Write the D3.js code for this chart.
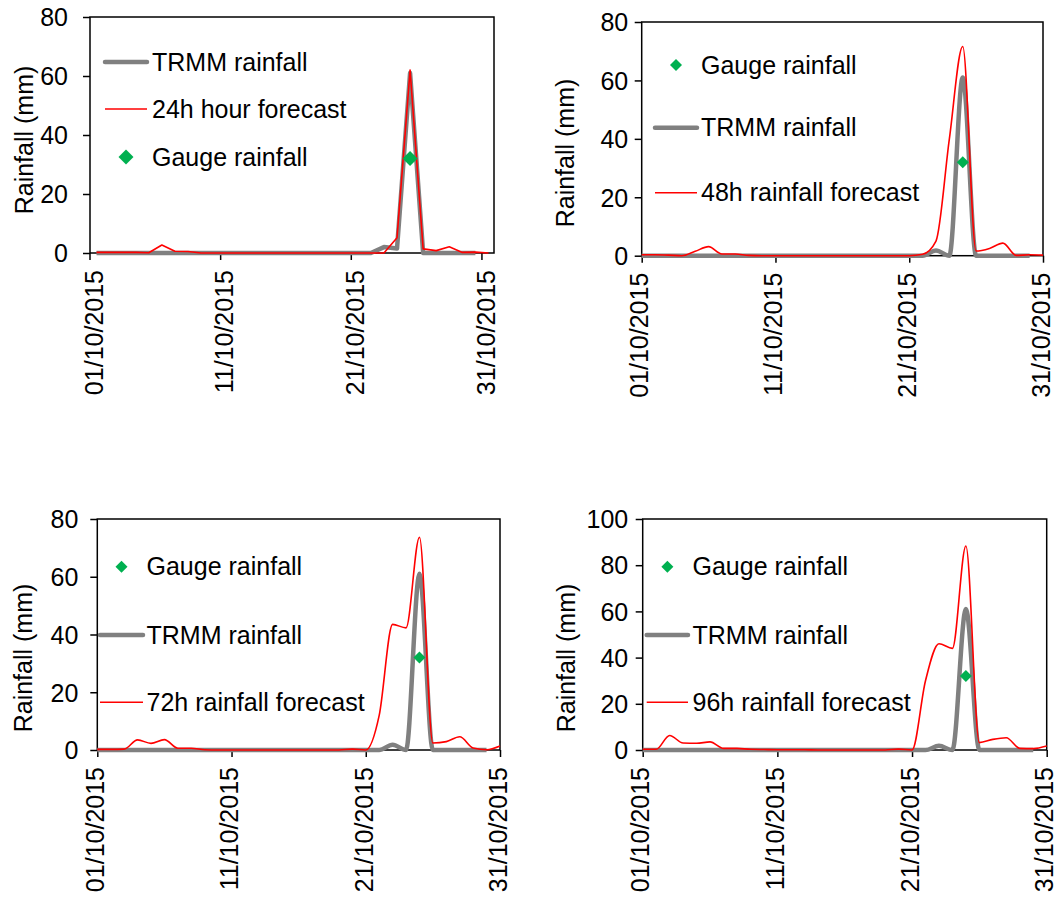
<!DOCTYPE html>
<html>
<head>
<meta charset="utf-8">
<script src="https://cdn.jsdelivr.net/npm/d3@7"></script>
<style>
  body { margin: 0; background: #fff; }
  svg text { font-family: "Liberation Sans", Arial, sans-serif; font-size: 25px; fill: #000; }
</style>
</head>
<body>
<script>
// days of October 2015
var days = [1, 2, 3, 4, 5, 6, 7, 8, 9, 10, 11, 12, 13, 14, 15, 16, 17, 18, 19, 20,
            21, 22, 23, 24, 25, 26, 27, 28, 29, 30, 31];
var tickDays = [1, 11, 21, 31];

// TRMM rainfall (Oct 1 - Oct 30), as drawn in the 24h panel and in the smoothed panels
var trmm24 = [0, 0, 0, 0, 0, 0, 0, 0, 0, 0, 0, 0, 0, 0, 0, 0, 0, 0, 0, 0,
              0, 0, 2, 1.5, 61, 0, 0, 0, 0, 0];
var trmm = [0, 0, 0, 0, 0, 0, 0, 0, 0, 0, 0, 0, 0, 0, 0, 0, 0, 0, 0, 0,
            0, 0, 1.8, 0, 61, 0, 0, 0, 0, 0];

// forecasts (Oct 1 - Oct 31)
var forecast24 = [0.2, 0.2, 0.2, 0.2, 0.1, 2.7, 0.6, 0.5, 0, 0, 0, 0, 0, 0, 0, 0, 0, 0, 0, 0,
                  0, 0, 0, 5.2, 62, 1.4, 0.8, 2.1, 0.2, 0.3, 0];
var forecast48 = [0.3, 0.3, 0.2, 0, 1.5, 3.1, 0.6, 0.6, 0.1, 0, 0, 0, 0, 0, 0, 0, 0, 0, 0, 0,
                  0, 0.5, 5, 40, 71.6, 1.6, 2.5, 4.3, 0.1, 0.3, 0.2];
var forecast72 = [0.2, 0.2, 0.3, 3.5, 2.3, 3.6, 0.6, 0.6, 0.1, 0, 0, 0, 0, 0, 0, 0, 0, 0, 0, 0.3,
                  0, 12, 43.5, 42.3, 73.7, 2.4, 2.9, 4.6, 0.7, 0.1, 1.4];
var forecast96 = [0.3, 0.3, 6.3, 3.0, 2.9, 3.5, 0.7, 0.7, 0.3, 0.2, 0.1, 0.1, 0.1, 0, 0, 0, 0, 0, 0, 0.4,
                  0, 30, 46, 44, 88.3, 3.2, 4.6, 5.3, 0.7, 0.6, 1.7];

// gauge observation
var gaugeDays = [25];
var gaugeValues = [32];

var yTicks80 = [0, 20, 40, 60, 80];
var yTicks100 = [0, 20, 40, 60, 80, 100];

var W = 1059, H = 897;

var svg = d3.select("body")
            .append("svg")
            .attr("width", W)
            .attr("height", H);

var fmt = d3.timeFormat("%d/%m/%Y");
function toDate(d) { return new Date(2015, 9, d); }

function drawPanel(p) {
  var g = svg.append("g");

  // x scale: category axis for the first panel, date axis for the others
  var x, xPos, bw = 0;
  if (p.category) {
    x = d3.scaleBand().domain(days).range([p.left, p.xEnd]);
    bw = x.bandwidth();
    xPos = function(d) { return x(d) + bw / 2; };
  } else {
    x = d3.scaleTime().domain([toDate(1), toDate(31)]).range([p.left, p.right]);
    xPos = function(d) { return x(toDate(d)); };
  }
  var y = d3.scaleLinear().domain([0, p.yMax]).range([p.bottom, p.top]);

  // plot frame
  g.append("rect")
   .attr("x", p.left)
   .attr("y", p.top)
   .attr("width", p.right - p.left)
   .attr("height", p.bottom - p.top)
   .attr("fill", "none")
   .attr("stroke", "#000")
   .attr("stroke-width", 1.5);

  // y axis
  var yAxis = d3.axisLeft(y)
                .tickValues(p.yTicks)
                .tickSize(7)
                .tickSizeOuter(0)
                .tickPadding(p.yGap - 7);
  var gy = g.append("g")
            .attr("transform", "translate(" + p.left + ",0)")
            .call(yAxis);
  gy.select(".domain").remove();
  gy.selectAll("line").attr("stroke", "#000").attr("stroke-width", 1.5);
  gy.selectAll("text").attr("dy", "0.35em");

  // x axis
  var xAxis = p.category
    ? d3.axisBottom(x).tickValues(tickDays).tickFormat(function(d) { return fmt(toDate(d)); })
    : d3.axisBottom(x).tickValues(tickDays.map(toDate)).tickFormat(fmt);
  xAxis.tickSize(7).tickSizeOuter(0);
  var gx = g.append("g")
            .attr("transform", "translate(0," + p.bottom + ")")
            .call(xAxis);
  gx.select(".domain").remove();
  gx.selectAll("line").attr("stroke", "#000").attr("stroke-width", 1.5);
  if (p.category) {
    gx.selectAll("line").attr("x1", -bw / 2).attr("x2", -bw / 2);
  }
  gx.selectAll("text")
    .attr("transform", "rotate(-90)")
    .attr("x", -17)
    .attr("y", 0)
    .attr("dy", "0.25em")
    .style("text-anchor", "end");

  // y title
  g.append("text")
   .attr("transform", "translate(" + p.titleX + "," + p.titleY + ") rotate(-90)")
   .style("text-anchor", "middle")
   .text("Rainfall (mm)");

  // series
  var line = d3.line()
               .x(function(d, i) { return xPos(days[i]); })
               .y(function(d) { return y(d); })
               .curve(p.curve);

  g.append("path")
   .datum(p.trmm)
   .attr("d", line)
   .attr("fill", "none")
   .attr("stroke", "#808080")
   .attr("stroke-width", 4.5)
   .attr("stroke-linejoin", "round");

  g.append("path")
   .datum(p.forecast)
   .attr("d", line)
   .attr("fill", "none")
   .attr("stroke", "#ff0000")
   .attr("stroke-width", 1.6)
   .attr("stroke-linejoin", "round");

  var sym = d3.symbol().type(d3.symbolSquare).size(p.markerSize);
  g.selectAll(".gauge")
   .data(gaugeDays)
   .enter()
   .append("path")
   .attr("class", "gauge")
   .attr("d", sym)
   .attr("transform", function(d, i) {
     return "translate(" + xPos(d) + "," + y(gaugeValues[i]) + ") rotate(45)";
   })
   .attr("fill", "#00b050");

  // legend
  var midX = (p.legLine[0] + p.legLine[1]) / 2;
  p.legend.forEach(function(item) {
    if (item.type === "gauge") {
      g.append("path")
       .attr("d", sym)
       .attr("transform", "translate(" + midX + "," + item.y + ") rotate(45)")
       .attr("fill", "#00b050");
    } else {
      g.append("line")
       .attr("x1", p.legLine[0])
       .attr("x2", p.legLine[1])
       .attr("y1", item.y)
       .attr("y2", item.y)
       .attr("stroke", item.type === "trmm" ? "#808080" : "#ff0000")
       .attr("stroke-width", item.type === "trmm" ? 4.5 : 1.6)
       .attr("stroke-linecap", item.type === "trmm" ? "round" : "butt");
    }
    g.append("text")
     .attr("x", p.legText)
     .attr("y", item.y)
     .attr("dy", "0.35em")
     .text(item.label);
  });
}

var panels = [
  { left: 90, right: 494, xEnd: 495, top: 17, bottom: 253, yMax: 80, yTicks: yTicks80, yGap: 22,
    titleX: 33, titleY: 140, category: true, curve: d3.curveLinear,
    trmm: trmm24, forecast: forecast24, markerSize: 112,
    legLine: [105, 147], legText: 152,
    legend: [ { type: "trmm", y: 62, label: "TRMM rainfall" },
              { type: "forecast", y: 109, label: "24h hour forecast" },
              { type: "gauge", y: 157, label: "Gauge rainfall" } ] },
  { left: 641.7, right: 1043, top: 22, bottom: 255.7, yMax: 80, yTicks: yTicks80, yGap: 13.5,
    titleX: 574, titleY: 153, category: false, curve: d3.curveMonotoneX,
    trmm: trmm, forecast: forecast48, markerSize: 72,
    legLine: [655, 697], legText: 701,
    legend: [ { type: "gauge", y: 65, label: "Gauge rainfall" },
              { type: "trmm", y: 127.7, label: "TRMM rainfall" },
              { type: "forecast", y: 192.7, label: "48h rainfall forecast" } ] },
  { left: 97.3, right: 500, top: 519, bottom: 750, yMax: 80, yTicks: yTicks80, yGap: 19,
    titleX: 32, titleY: 658, category: false, curve: d3.curveMonotoneX,
    trmm: trmm, forecast: forecast72, markerSize: 72,
    legLine: [100, 143], legText: 146.5,
    legend: [ { type: "gauge", y: 566.7, label: "Gauge rainfall" },
              { type: "trmm", y: 635, label: "TRMM rainfall" },
              { type: "forecast", y: 702.3, label: "72h rainfall forecast" } ] },
  { left: 642.7, right: 1046.7, top: 519, bottom: 750, yMax: 100, yTicks: yTicks100, yGap: 14.5,
    titleX: 575, titleY: 658, category: false, curve: d3.curveMonotoneX,
    trmm: trmm, forecast: forecast96, markerSize: 72,
    legLine: [646.7, 688], legText: 692.5,
    legend: [ { type: "gauge", y: 566.7, label: "Gauge rainfall" },
              { type: "trmm", y: 635, label: "TRMM rainfall" },
              { type: "forecast", y: 702.3, label: "96h rainfall forecast" } ] }
];

panels.forEach(drawPanel);
</script>
</body>
</html>
